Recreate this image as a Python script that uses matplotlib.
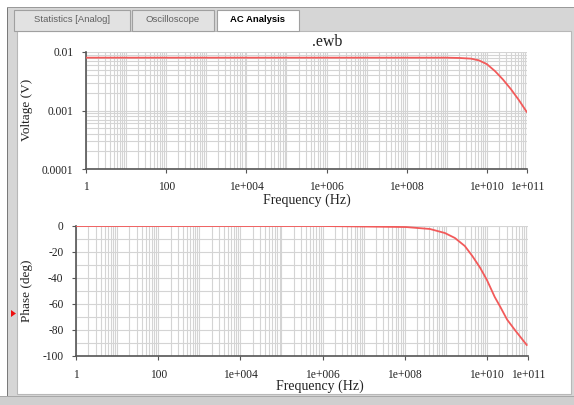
import numpy as np
import matplotlib.pyplot as plt
from matplotlib.patches import Rectangle, Polygon
from matplotlib.ticker import FixedLocator, LogLocator, MultipleLocator, NullFormatter

plt.rcParams['font.family'] = ['Liberation Serif', 'DejaVu Serif']

# 读取自图片的数据
freq_v = [1, 1e6, 1e9, 2.1e9, 4e9, 6.3e9, 1e10, 1.6e10, 2.5e10, 4e10, 6.3e10, 9.8e10]
volt = [0.0080, 0.0080, 0.0080, 0.0079, 0.0077, 0.0072, 0.0062, 0.0047, 0.0034, 0.0023, 0.0015, 0.00095]

freq_p = [1, 1e6, 1.07e8, 4.1e8, 9.5e8, 1.66e9, 2.9e9, 4.4e9, 6.8e9, 1e10,
          1.55e10, 2.1e10, 3.1e10, 4.8e10, 9.3e10]
phase = [0, 0, -0.8, -2.3, -5.4, -9.2, -15.4, -23, -32, -41.5,
         -54.6, -62, -72, -80, -91.5]

x_ticks = [1, 1e2, 1e4, 1e6, 1e8, 1e10, 1e11]
x_labels = ['1', '100', '1e+004', '1e+006', '1e+008', '1e+010', '1e+011']
v_ticks = [1e-4, 1e-3, 1e-2]
v_labels = ['0.0001', '0.001', '0.01']
p_ticks = [-100, -80, -60, -40, -20, 0]
tabs = ['Statistics [Analog]', 'Oscilloscope', 'AC Analysis']

W, H = 574, 405
fig = plt.figure(figsize=(W / 100, H / 100), dpi=100)
fig.patch.set_facecolor('white')


def box(x, y, w, h):
    # 像素坐标 -> figure 坐标
    return [x / W, 1 - (y + h) / H, w / W, h / H]


def rect(x, y, w, h, fc, ec='none', lw=0, z=0):
    b = box(x, y, w, h)
    fig.patches.append(Rectangle((b[0], b[1]), b[2], b[3], transform=fig.transFigure,
                                 facecolor=fc, edgecolor=ec, linewidth=lw, zorder=z))


# 窗口边框
rect(7, 7, 567, 398, '#d6d6d6', z=-5)
rect(7, 7, 1.2, 398, '#7a7a7a', z=-4)
rect(7, 7, 567, 1, '#9a9a9a', z=-4)
rect(17, 31, 554, 363, 'white', '#b8b8b8', 0.8, z=-4)
rect(0, 396, 574, 9, '#cfcfcf', z=-4)
rect(0, 396, 574, 1, '#a8a8a8', z=-4)

# 标签页
tab_x = [14, 132, 217]
tab_w = [116, 82, 82]
for i, t in enumerate(tabs):
    active = i == 2
    rect(tab_x[i], 10, tab_w[i], 21, 'white' if active else '#e2e2e2', '#a0a0a0', 0.8, z=-3)
    fig.text((tab_x[i] + tab_w[i] / 2) / W, 1 - 20 / H, t, ha='center', va='center',
             fontsize=6.8, family='Liberation Sans',
             fontweight='bold' if active else 'normal',
             color='black' if active else '#606060')

# 左侧红色小三角
fig.patches.append(Polygon([[11 / W, 1 - 310 / H], [11 / W, 1 - 317 / H], [16 / W, 1 - 313.5 / H]],
                           closed=True, transform=fig.transFigure, facecolor='#ee1111',
                           edgecolor='none', zorder=-2))

ax1 = fig.add_axes(box(86, 52, 441, 117))
ax2 = fig.add_axes(box(76, 226, 452, 130))

ax1.plot(freq_v, volt, color='#f25a5a', lw=1.3, zorder=3)
ax2.plot(freq_p, phase, color='#f25a5a', lw=1.3, zorder=3)

for ax in (ax1, ax2):
    ax.set_zorder(2)
    ax.set_xscale('log')
    ax.set_xlim(1, 1e11)
    ax.xaxis.set_major_locator(FixedLocator(x_ticks))
    ax.set_xticklabels(x_labels)
    ax.xaxis.set_minor_locator(LogLocator(base=10, subs=np.arange(1, 10), numticks=200))
    ax.xaxis.set_minor_formatter(NullFormatter())
    for s in ('top', 'right'):
        ax.spines[s].set_visible(False)
    for s in ('left', 'bottom'):
        ax.spines[s].set_color('#555555')
        ax.spines[s].set_linewidth(1.2)
    ax.tick_params(which='major', direction='out', length=3, width=0.8, color='#555555',
                   labelsize=8.3, labelcolor='#222222', pad=6)
    ax.tick_params(which='minor', length=0)
    ax.grid(True, which='both', color='#d4d4d4', lw=0.8, zorder=0)
    ax.set_axisbelow(True)
    ax.set_facecolor('white')

ax1.set_yscale('log')
ax1.set_ylim(1e-4, 1e-2)
ax1.yaxis.set_major_locator(FixedLocator(v_ticks))
ax1.set_yticklabels(v_labels)
ax1.yaxis.set_minor_locator(LogLocator(base=10, subs=np.arange(2, 10), numticks=50))
ax1.yaxis.set_minor_formatter(NullFormatter())

ax2.set_ylim(-100, 0)
ax2.yaxis.set_major_locator(FixedLocator(p_ticks))
ax2.set_yticklabels([str(v) for v in p_ticks])
ax2.yaxis.set_minor_locator(MultipleLocator(10))

fig.text(27 / W, 1 - 110 / H, 'Voltage (V)', rotation=90, ha='center', va='center',
         fontsize=9.5, color='#222222')
fig.text(27 / W, 1 - 291 / H, 'Phase (deg)', rotation=90, ha='center', va='center',
         fontsize=9.5, color='#222222')
fig.text(307 / W, 1 - 200 / H, 'Frequency (Hz)', ha='center', va='center',
         fontsize=10, color='#222222')
fig.text(320 / W, 1 - 386 / H, 'Frequency (Hz)', ha='center', va='center',
         fontsize=10, color='#222222')
fig.text(327 / W, 1 - 42 / H, '.ewb', ha='center', va='center', fontsize=11.5, color='#222222')

fig.savefig('out.png', dpi=100)
